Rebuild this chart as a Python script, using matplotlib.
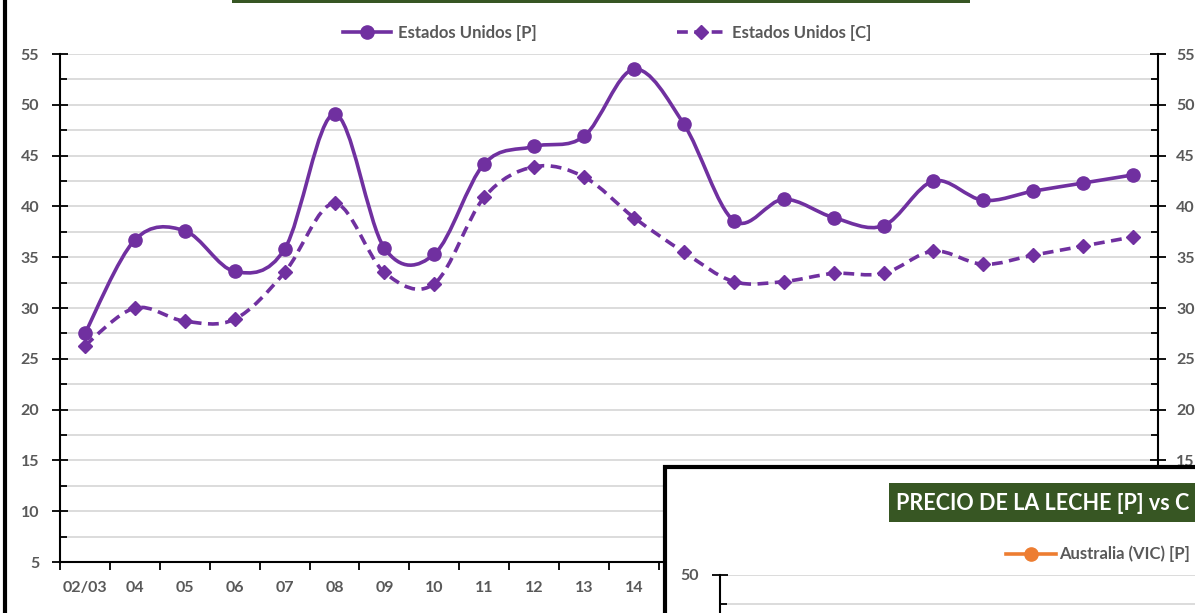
import numpy as np
import matplotlib.pyplot as plt
from matplotlib.path import Path
from matplotlib.patches import PathPatch, Rectangle
from matplotlib.lines import Line2D

# temporadas (eje x) y valores
temporadas = ['02/03', '04', '05', '06', '07', '08', '09', '10', '11', '12', '13',
              '14', '15', '16', '17', '18', '19', '20', '21', '22', '23', '24']
eeuu_p = [27.5, 36.7, 37.6, 33.6, 35.8, 49.1, 35.9, 35.3, 44.2, 45.9, 46.9,
          53.5, 48.1, 38.6, 40.7, 38.9, 38.1, 42.5, 40.6, 41.5, 42.3, 43.1]
eeuu_c = [26.3, 30.0, 28.7, 28.9, 33.5, 40.3, 33.5, 32.4, 40.9, 43.9, 42.9,
          38.9, 35.5, 32.6, 32.6, 33.4, 33.4, 35.6, 34.3, 35.2, 36.1, 37.0]

PURPLE = '#7030A0'
ORANGE = '#ED7D31'
GREEN = '#375623'
GREY = '#595959'
GRID = '#D9D9D9'
W, H = 1195, 613

plt.rcParams['font.family'] = ['Lato', 'DejaVu Sans']
plt.rcParams['font.weight'] = 'bold'


def smooth_path(x, y):
    # curva suavizada tipo Excel (Catmull-Rom -> Bezier)
    pts = np.column_stack([x, y]).astype(float)
    ext = np.vstack([pts[0], pts, pts[-1]])
    verts = [pts[0]]
    codes = [Path.MOVETO]
    for i in range(len(pts) - 1):
        p0, p1, p2, p3 = ext[i], ext[i + 1], ext[i + 2], ext[i + 3]
        verts += [p1 + (p2 - p0) / 6, p2 - (p3 - p1) / 6, p2]
        codes += [Path.CURVE4] * 3
    return Path(verts, codes)


fig = plt.figure(figsize=(W / 100, H / 100), dpi=100)
ax = fig.add_axes([60 / W, (H - 562) / H, 1098 / W, 508 / H])
x = np.arange(len(temporadas))

ax.add_patch(PathPatch(smooth_path(x, eeuu_p), fill=False, edgecolor=PURPLE, lw=2.6, zorder=3))
ax.add_patch(PathPatch(smooth_path(x, eeuu_c), fill=False, edgecolor=PURPLE, lw=2.6,
                       linestyle=(0, (3, 1.8)), zorder=3))
ax.plot(x, eeuu_p, linestyle='none', marker='o', ms=9.5, color=PURPLE, zorder=4)
ax.plot(x, eeuu_c, linestyle='none', marker='D', ms=7.5, color=PURPLE, zorder=4)

ax.set_xlim(-0.5, len(temporadas) - 0.5)
ax.set_ylim(5, 55)
ax.set_yticks(np.arange(5, 56, 5))
ax.set_yticks(np.arange(7.5, 55, 5), minor=True)
ax.grid(which='both', axis='y', color=GRID, lw=1.3)
ax.set_axisbelow(True)

ax.set_xticks(np.arange(-0.5, len(temporadas), 1))
ax.set_xticklabels([])
ax.set_xticks(x, minor=True)
ax.set_xticklabels(temporadas, minor=True)
ax.tick_params(axis='x', which='major', direction='out', length=6, width=1.3, color='black')
ax.tick_params(axis='x', which='minor', length=0, pad=14, labelsize=11.5, labelcolor=GREY)
ax.tick_params(axis='y', which='major', direction='inout', length=12, width=1.3,
               labelsize=11.5, labelcolor=GREY, pad=9)
ax.tick_params(axis='y', which='minor', direction='in', length=5, width=1.3)
for s in ['top', 'right']:
    ax.spines[s].set_visible(False)
ax.spines['left'].set_linewidth(1.5)
ax.spines['bottom'].set_linewidth(1.5)
# las etiquetas que quedan tapadas por el grafico superpuesto
for lab in ax.get_xticklabels(minor=True)[12:]:
    lab.set_visible(False)

ax2 = ax.twinx()
ax2.set_ylim(5, 55)
ax2.set_yticks(np.arange(5, 56, 5))
ax2.set_yticks(np.arange(7.5, 55, 5), minor=True)
ax2.tick_params(axis='y', which='major', direction='inout', length=12, width=1.3,
                labelsize=11.5, labelcolor=GREY, pad=7)
ax2.tick_params(axis='y', which='minor', direction='in', length=5, width=1.3)
for s in ['top', 'left', 'bottom']:
    ax2.spines[s].set_visible(False)
ax2.spines['right'].set_linewidth(1.5)
for lab in ax2.get_yticklabels()[:2]:
    lab.set_visible(False)

handles = [Line2D([], [], color=PURPLE, lw=2.6, marker='o', ms=9.5),
           Line2D([], [], color=PURPLE, lw=2.6, marker='D', ms=7.5, linestyle=(0, (3, 1.8)))]
fig.legend(handles, ['Estados Unidos [P]', 'Estados Unidos [C]'], ncol=2, loc='center',
           bbox_to_anchor=(607 / W, (H - 33) / H), frameon=False, fontsize=12,
           labelcolor=GREY, handlelength=2.9, handletextpad=0.4, columnspacing=8.4)

# borde del area del grafico y titulo cortado arriba
fig.add_artist(Line2D([5 / W, 5 / W], [0, 1], color='black', lw=3))
fig.add_artist(Rectangle((232 / W, (H - 3) / H), 738 / W, 0.05, facecolor=GREEN,
                         edgecolor='none', transform=fig.transFigure, zorder=6))

# segundo grafico superpuesto (abajo a la derecha)
fig.add_artist(Rectangle((665 / W, -0.2), 0.5, (H - 467) / H + 0.2, facecolor='white',
                         edgecolor='black', lw=3, transform=fig.transFigure, zorder=5))
fig.add_artist(Rectangle((889 / W, (H - 522) / H), 0.3, 39 / H, facecolor=GREEN,
                         edgecolor='none', transform=fig.transFigure, zorder=6))
fig.text(896 / W, (H - 503) / H, 'PRECIO DE LA LECHE [P] vs C', color='white',
         fontsize=15.5, fontweight='bold', va='center', ha='left', zorder=7)
fig.add_artist(Line2D([1006 / W, 1056 / W], [(H - 554) / H] * 2, color=ORANGE, lw=2.6, zorder=7))
fig.add_artist(Line2D([1031 / W], [(H - 554) / H], color=ORANGE, marker='o', ms=9.5, zorder=7))
fig.text(1059 / W, (H - 554) / H, 'Australia (VIC) [P]', color=GREY, fontsize=12,
         fontweight='bold', va='center', ha='left', zorder=7)

ax3 = fig.add_axes([720 / W, (H - 691) / H, 0.5, 116 / H])
ax3.set_zorder(8)
ax3.patch.set_visible(False)
ax3.set_ylim(40, 50)
ax3.set_xlim(0, 1)
ax3.set_yticks([50])
ax3.set_yticks([47.5], minor=True)
ax3.set_xticks([])
ax3.grid(which='both', axis='y', color=GRID, lw=1.3)
ax3.tick_params(axis='y', which='major', direction='inout', length=12, width=1.3,
                labelsize=11.5, labelcolor=GREY, pad=9)
ax3.tick_params(axis='y', which='minor', direction='in', length=5, width=1.3)
for s in ['top', 'right', 'bottom']:
    ax3.spines[s].set_visible(False)
ax3.spines['left'].set_linewidth(1.5)

fig.savefig('out.png', dpi=100)
